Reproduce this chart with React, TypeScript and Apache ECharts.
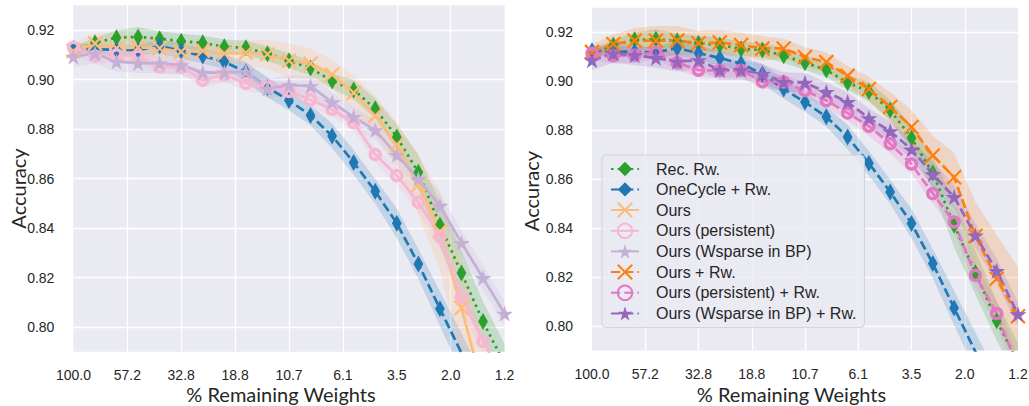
import React, { useEffect, useRef } from "react";
import * as echarts from "echarts";

// pruning iterations (each removes 20% of remaining weights)
const pruneSteps = [0, 1, 2, 3, 4, 5, 6, 7, 8, 9, 10, 11, 12, 13, 14, 15, 16, 17, 18, 19, 20];
const xTickLabels = ["100.0", "57.2", "32.8", "18.8", "10.7", "6.1", "3.5", "2.0", "1.2"];
const yTickLabels = ["0.80", "0.82", "0.84", "0.86", "0.88", "0.90", "0.92"];

const legendNames = [
  "Rec. Rw.",
  "OneCycle + Rw.",
  "Ours",
  "Ours (persistent)",
  "Ours (Wsparse in BP)",
  "Ours + Rw.",
  "Ours (persistent) + Rw.",
  "Ours (Wsparse in BP) + Rw.",
];

const recRw = [0.9115, 0.9148, 0.9169, 0.9172, 0.9165, 0.9155, 0.9148, 0.9132, 0.9128, 0.9104, 0.9076, 0.9046, 0.8994, 0.8958, 0.8882, 0.8768, 0.8625, 0.8412, 0.8218, 0.8022, 0.785];
const recRwCI = [0.002, 0.002, 0.003, 0.004, 0.003, 0.003, 0.003, 0.003, 0.003, 0.003, 0.003, 0.003, 0.003, 0.004, 0.004, 0.005, 0.007, 0.009, 0.009, 0.008, 0.008];

const oneCycle = [0.9125, 0.9122, 0.912, 0.9118, 0.9135, 0.9115, 0.9095, 0.9072, 0.903, 0.8968, 0.8915, 0.8855, 0.8772, 0.8665, 0.8548, 0.8419, 0.8255, 0.8074, 0.7895, 0.772, 0.755];
const oneCycleCI = [0.002, 0.002, 0.002, 0.002, 0.003, 0.003, 0.003, 0.003, 0.004, 0.004, 0.004, 0.004, 0.005, 0.005, 0.005, 0.006, 0.006, 0.007, 0.008, 0.008, 0.008];

const ours = [0.9115, 0.9146, 0.9126, 0.913, 0.9126, 0.9112, 0.9116, 0.9105, 0.9108, 0.9102, 0.9076, 0.9065, 0.902, 0.8946, 0.8854, 0.8737, 0.8575, 0.8387, 0.8077, 0.775, 0.75];
const oursCI = [0.003, 0.004, 0.006, 0.005, 0.004, 0.004, 0.004, 0.004, 0.005, 0.006, 0.007, 0.006, 0.006, 0.007, 0.008, 0.009, 0.012, 0.016, 0.02, 0.02, 0.02];

const oursPersistent = [0.913, 0.9095, 0.91, 0.9095, 0.9051, 0.9051, 0.8997, 0.902, 0.8984, 0.897, 0.8952, 0.8918, 0.8879, 0.8825, 0.8697, 0.8612, 0.8504, 0.8366, 0.8121, 0.7942, 0.778];
const oursPersistentCI = [0.003, 0.003, 0.003, 0.003, 0.003, 0.003, 0.003, 0.003, 0.003, 0.003, 0.003, 0.003, 0.003, 0.003, 0.003, 0.004, 0.004, 0.004, 0.005, 0.005, 0.005];

const oursWsparse = [0.9092, 0.9105, 0.9072, 0.9066, 0.9065, 0.9058, 0.9028, 0.9028, 0.9032, 0.8963, 0.8977, 0.8973, 0.8908, 0.8849, 0.8795, 0.8695, 0.8598, 0.849, 0.834, 0.8198, 0.8054];
const oursWsparseCI = [0.004, 0.004, 0.004, 0.004, 0.004, 0.004, 0.004, 0.004, 0.004, 0.004, 0.004, 0.004, 0.004, 0.004, 0.004, 0.004, 0.004, 0.005, 0.005, 0.005, 0.005];

const oursRw = [0.912, 0.9152, 0.9166, 0.9166, 0.9166, 0.9155, 0.9158, 0.9148, 0.9134, 0.9134, 0.9099, 0.9078, 0.9022, 0.8968, 0.8895, 0.8813, 0.8697, 0.8608, 0.8368, 0.8193, 0.804];
const oursRwCI = [0.003, 0.004, 0.005, 0.006, 0.006, 0.005, 0.005, 0.005, 0.005, 0.004, 0.004, 0.004, 0.004, 0.005, 0.006, 0.007, 0.008, 0.01, 0.014, 0.018, 0.02];

const oursPersistentRw = [0.9114, 0.9104, 0.9106, 0.9118, 0.9076, 0.9045, 0.9044, 0.9045, 0.8998, 0.8997, 0.8962, 0.8921, 0.887, 0.8816, 0.8745, 0.8662, 0.8541, 0.8425, 0.8207, 0.8051, 0.783];
const oursPersistentRwCI = [0.003, 0.003, 0.003, 0.003, 0.003, 0.003, 0.003, 0.003, 0.003, 0.003, 0.003, 0.003, 0.003, 0.004, 0.004, 0.004, 0.004, 0.004, 0.005, 0.005, 0.005];

const oursWsparseRw = [0.9086, 0.9114, 0.9106, 0.9095, 0.908, 0.9086, 0.9046, 0.9046, 0.903, 0.8997, 0.8994, 0.8956, 0.8915, 0.8849, 0.8796, 0.8721, 0.862, 0.8527, 0.837, 0.8225, 0.8048];
const oursWsparseRwCI = [0.004, 0.004, 0.004, 0.004, 0.004, 0.004, 0.004, 0.004, 0.004, 0.004, 0.004, 0.004, 0.004, 0.004, 0.004, 0.004, 0.005, 0.005, 0.005, 0.005, 0.005];

const DIAMOND = "path://M0,-8L4.6,0L0,8L-4.6,0Z";
const XMARK = "path://M0,0L10,10M10,0L0,10";
const STAR = "path://M50,0L61.2,34.5L97.6,34.5L68.2,55.9L79.4,90.5L50,69.1L20.6,90.5L31.8,55.9L2.4,34.5L38.8,34.5Z";
const RING = "circle";

const DOTTED = [2.5, 4.1];
const DASHED = [9.2, 4];

type Style = {
  color: string;
  dash: number[] | "solid";
  symbol: string;
  size: number;
  kind: "fill" | "stroke" | "ring";
};

const styles: Record<string, Style> = {
  "Rec. Rw.": { color: "#2ca02c", dash: DOTTED, symbol: DIAMOND, size: 17, kind: "fill" },
  "OneCycle + Rw.": { color: "#1f77b4", dash: DASHED, symbol: DIAMOND, size: 17, kind: "fill" },
  "Ours": { color: "#ffbb78", dash: "solid", symbol: XMARK, size: 14, kind: "stroke" },
  "Ours (persistent)": { color: "#f7b6d2", dash: "solid", symbol: RING, size: 10, kind: "ring" },
  "Ours (Wsparse in BP)": { color: "#c5b0d5", dash: "solid", symbol: STAR, size: 17, kind: "fill" },
  "Ours + Rw.": { color: "#ff7f0e", dash: DASHED, symbol: XMARK, size: 14, kind: "stroke" },
  "Ours (persistent) + Rw.": { color: "#e377c2", dash: DASHED, symbol: RING, size: 10, kind: "ring" },
  "Ours (Wsparse in BP) + Rw.": { color: "#9467bd", dash: DASHED, symbol: STAR, size: 17, kind: "fill" },
};

function lineSeries(name: string, values: number[], grid: number) {
  const s = styles[name];
  let itemStyle: any;
  if (s.kind === "fill") itemStyle = { color: s.color, borderWidth: 0, opacity: 1 };
  else if (s.kind === "stroke") itemStyle = { color: s.color, borderColor: s.color, borderWidth: 2.2, opacity: 1 };
  else itemStyle = { color: "rgba(0,0,0,0)", borderColor: s.color, borderWidth: 3.4, opacity: 1 };
  return {
    type: "line",
    name,
    xAxisIndex: grid,
    yAxisIndex: grid,
    data: pruneSteps.map((st, i) => [st, values[i]]),
    symbol: s.symbol,
    symbolSize: s.size,
    symbolKeepAspect: true,
    showSymbol: true,
    lineStyle: { color: s.color, width: 2.7, type: s.dash, cap: "butt" },
    itemStyle,
    z: 3,
    clip: true,
    silent: true,
    emphasis: { disabled: true },
  };
}

function bandSeries(name: string, values: number[], ci: number[], grid: number) {
  const s = styles[name];
  const fill = echarts.color.modifyAlpha(s.color, 0.2);
  return {
    type: "custom",
    name: `band-${grid}-${name}`,
    xAxisIndex: grid,
    yAxisIndex: grid,
    data: [[0, values[0]]],
    clip: true,
    silent: true,
    z: 1,
    renderItem: (_params: any, api: any) => {
      const up = pruneSteps.map((st, i) => api.coord([st, values[i] + ci[i]]));
      const lo = pruneSteps.map((st, i) => api.coord([st, values[i] - ci[i]])).reverse();
      return {
        type: "polygon",
        shape: { points: up.concat(lo) },
        style: { fill, stroke: "none" },
      };
    },
  };
}

const leftSet: [string, number[], number[]][] = [
  ["Rec. Rw.", recRw, recRwCI],
  ["OneCycle + Rw.", oneCycle, oneCycleCI],
  ["Ours", ours, oursCI],
  ["Ours (persistent)", oursPersistent, oursPersistentCI],
  ["Ours (Wsparse in BP)", oursWsparse, oursWsparseCI],
];
const rightSet: [string, number[], number[]][] = [
  ["Rec. Rw.", recRw, recRwCI],
  ["OneCycle + Rw.", oneCycle, oneCycleCI],
  ["Ours + Rw.", oursRw, oursRwCI],
  ["Ours (persistent) + Rw.", oursPersistentRw, oursPersistentRwCI],
  ["Ours (Wsparse in BP) + Rw.", oursWsparseRw, oursWsparseRwCI],
];

const TEXT = "#262626";
const TICK_FONT = "Liberation Sans";
const TITLE_FONT = "Lato";

function xAxis(grid: number) {
  return {
    type: "value",
    gridIndex: grid,
    min: 0,
    max: 20,
    interval: 2.5,
    axisLine: { show: false },
    axisTick: { show: false },
    axisLabel: {
      margin: 16,
      fontSize: 14,
      fontFamily: TICK_FONT,
      color: TEXT,
      formatter: (v: number) => xTickLabels[Math.round(v / 2.5)] ?? "",
    },
    splitLine: { show: true, showMinLine: false, showMaxLine: false, lineStyle: { color: "#ffffff", width: 1.3 } },
  };
}

function yAxis(grid: number) {
  return {
    type: "value",
    gridIndex: grid,
    min: 0.79,
    max: 0.93,
    interval: 0.01,
    axisLine: { show: false },
    axisTick: { show: false },
    axisLabel: {
      margin: 19,
      fontSize: 14,
      fontFamily: TICK_FONT,
      color: TEXT,
      formatter: (v: number) => {
        const t = v.toFixed(2);
        return yTickLabels.includes(t) ? t : "";
      },
    },
    splitLine: { show: true, lineStyle: { color: ["rgba(0,0,0,0)", "#ffffff"], width: 1.3 } },
  };
}

export default function App() {
  const ref = useRef<HTMLDivElement>(null);
  useEffect(() => {
    if (!ref.current) return;
    const chart = echarts.init(ref.current, null, { renderer: "svg" });
    const series: any[] = [];
    leftSet.forEach(([n, v, c]) => series.push(bandSeries(n, v, c, 0)));
    rightSet.forEach(([n, v, c]) => series.push(bandSeries(n, v, c, 1)));
    leftSet.forEach(([n, v]) => series.push(lineSeries(n, v, 0)));
    rightSet.forEach(([n, v]) => series.push(lineSeries(n, v, 1)));

    chart.setOption({
      animation: false,
      backgroundColor: "#ffffff",
      grid: [
        { left: 73.4, top: 5.25, width: 431.2, height: 346.5, show: true, backgroundColor: "#EAEAF2", borderWidth: 0, containLabel: false, outerBoundsMode: "none" },
        { left: 592, top: 7.8, width: 426, height: 342.7, show: true, backgroundColor: "#EAEAF2", borderWidth: 0, containLabel: false, outerBoundsMode: "none" },
      ],
      xAxis: [xAxis(0), xAxis(1)],
      yAxis: [yAxis(0), yAxis(1)],
      legend: {
        data: legendNames,
        orient: "vertical",
        left: 602,
        top: 155,
        padding: [6, 8, 6, 8],
        itemWidth: 28,
        itemHeight: 18,
        itemGap: 4.4,
        backgroundColor: "rgba(234,234,242,0.8)",
        borderColor: "rgba(204,204,204,0.8)",
        borderWidth: 1,
        borderRadius: 4,
        z: 10,
        selectedMode: false,
        textStyle: { fontSize: 16, fontFamily: TICK_FONT, color: TEXT, padding: [0, 0, 0, 12] },
      },
      graphic: [
        { type: "text", x: 18, y: 188.5, rotation: Math.PI / 2, style: { text: "Accuracy", fontSize: 20, fontFamily: TITLE_FONT, fill: TEXT, align: "center", verticalAlign: "middle" } },
        { type: "text", x: 531, y: 191, rotation: Math.PI / 2, style: { text: "Accuracy", fontSize: 20, fontFamily: TITLE_FONT, fill: TEXT, align: "center", verticalAlign: "middle" } },
        { type: "text", x: 281, y: 394, style: { text: "% Remaining Weights", fontSize: 20, fontFamily: TITLE_FONT, fill: TEXT, align: "center", verticalAlign: "middle" } },
        { type: "text", x: 791.5, y: 394, style: { text: "% Remaining Weights", fontSize: 20, fontFamily: TITLE_FONT, fill: TEXT, align: "center", verticalAlign: "middle" } },
      ],
      series,
    });
    return () => chart.dispose();
  }, []);
  return <div ref={ref} style={{ position: "absolute", left: 0, top: 0, width: 1029, height: 406 }} />;
}
